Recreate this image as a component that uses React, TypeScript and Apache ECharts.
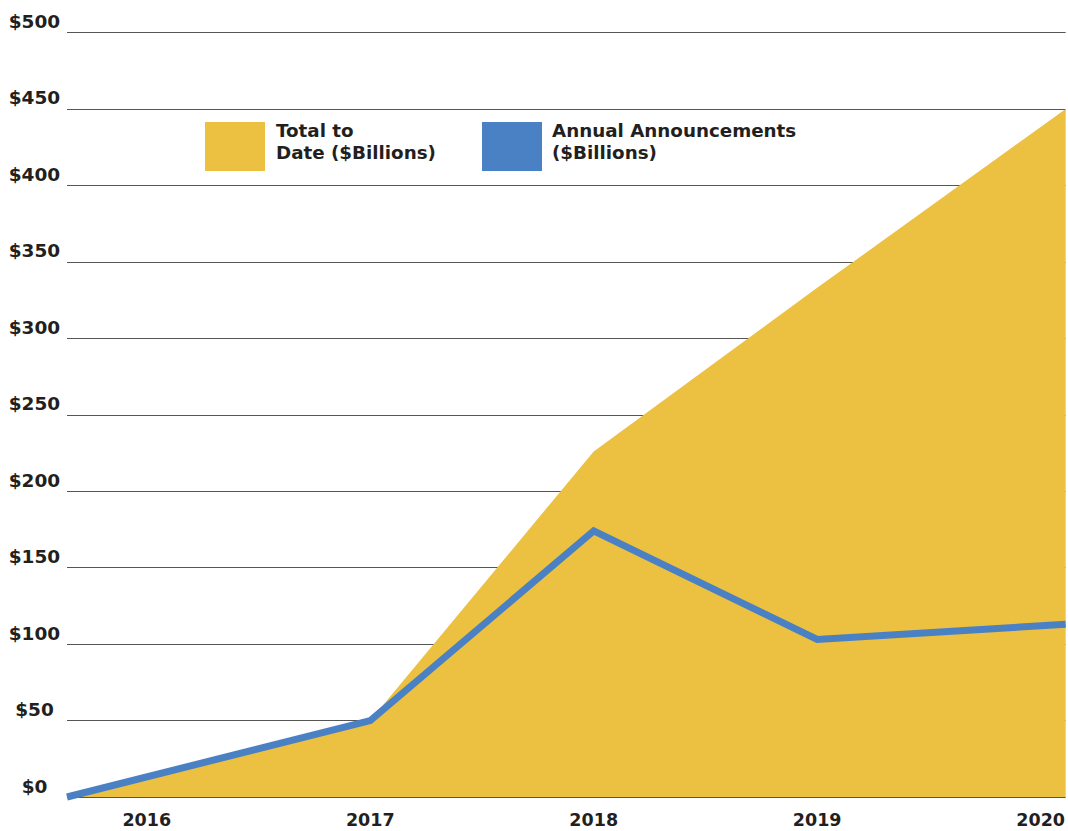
import React, { useEffect, useRef } from "react";
import * as echarts from "echarts";

// Data
const years = [2016, 2017, 2018, 2019, 2020];
const totalToDate = [0, 50, 226, 333, 450];
const annualAnnouncements = [0, 50, 174, 103, 113];
const yTicks = [0, 50, 100, 150, 200, 250, 300, 350, 400, 450, 500];
const legendNames = ["Total to\nDate ($Billions)", "Annual Announcements\n($Billions)"];

const FONT = "'DejaVu Sans', sans-serif";
const YELLOW = "#ecc040";
const BLUE = "#4a80c4";
const TEXT = "#231f20";

// horizontal extent of the drawing around the first / last year
const X_MIN = 2015.643;
const X_MAX = 2020.112;

export default function App() {
  const ref = useRef<HTMLDivElement>(null);

  useEffect(() => {
    document.body.style.margin = "0";
    if (!ref.current) return;
    const chart = echarts.init(ref.current, null, { renderer: "svg" });

    const toPoints = (vals: number[]) =>
      vals.map((v, i) => {
        let x = years[i];
        if (i === 0) x = X_MIN;
        if (i === vals.length - 1) x = X_MAX;
        return [x, v];
      });

    chart.setOption({
      animation: false,
      backgroundColor: "#ffffff",
      grid: { left: 67, right: 1, top: 32.5, bottom: 34, containLabel: false },
      xAxis: {
        type: "value",
        min: X_MIN,
        max: X_MAX,
        axisLine: { show: false },
        axisTick: { show: false },
        splitLine: { show: false },
        axisLabel: {
          customValues: years,
          formatter: (v: number) => String(Math.round(v)),
          color: TEXT,
          fontFamily: FONT,
          fontWeight: "bold",
          fontSize: 17.5,
          lineHeight: 18,
          margin: 14,
        },
      },
      yAxis: {
        type: "value",
        min: yTicks[0],
        max: yTicks[yTicks.length - 1],
        interval: 50,
        axisLine: { show: false },
        axisTick: { show: false },
        splitLine: { lineStyle: { color: "#555555", width: 1 } },
        axisLabel: {
          formatter: (v: number) => "$" + v,
          color: TEXT,
          fontFamily: FONT,
          fontWeight: "bold",
          fontSize: 18.5,
          lineHeight: 20,
          align: "center",
          verticalAlign: "bottom",
          margin: 32.5,
          padding: [0, 0, 1, 0],
        },
      },
      series: [
        {
          name: legendNames[0],
          type: "line",
          data: toPoints(totalToDate),
          symbol: "none",
          lineStyle: { width: 0, color: YELLOW },
          areaStyle: { color: YELLOW, opacity: 1 },
          itemStyle: { color: YELLOW },
          z: 2,
        },
        {
          name: legendNames[1],
          type: "line",
          data: toPoints(annualAnnouncements),
          symbol: "none",
          clip: false,
          lineStyle: { width: 7, color: BLUE, join: "miter", cap: "butt" },
          itemStyle: { color: BLUE },
          z: 3,
        },
      ],
      graphic: [
        { type: "rect", left: 205, top: 122, shape: { width: 60, height: 49 }, style: { fill: YELLOW } },
        {
          type: "text",
          left: 276,
          top: 119,
          style: {
            text: legendNames[0],
            fill: TEXT,
            font: `bold 18.3px ${FONT}`,
            lineHeight: 22,
          },
        },
        { type: "rect", left: 482, top: 122, shape: { width: 60, height: 49 }, style: { fill: BLUE } },
        {
          type: "text",
          left: 552,
          top: 119,
          style: {
            text: legendNames[1],
            fill: TEXT,
            font: `bold 18.3px ${FONT}`,
            lineHeight: 22,
          },
        },
      ],
    });

    return () => chart.dispose();
  }, []);

  return <div ref={ref} style={{ width: 1068, height: 831 }} />;
}
